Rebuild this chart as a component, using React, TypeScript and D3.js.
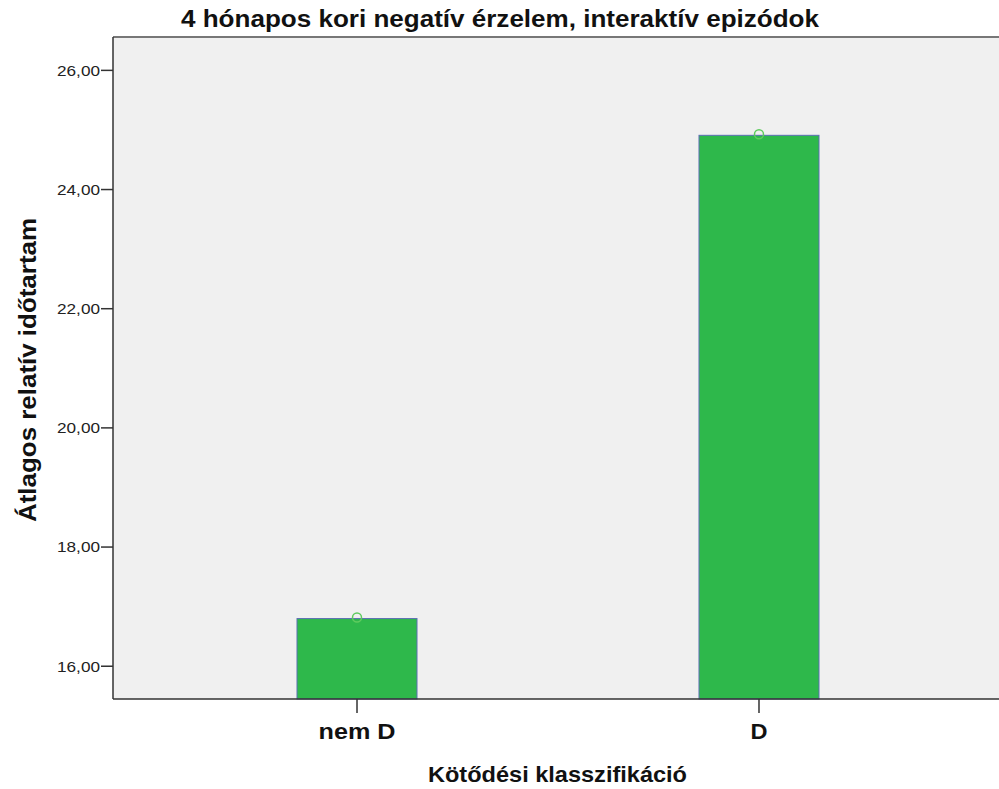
import React from "react";
import * as d3 from "d3";

const categories = ["nem D", "D"];
const means = [16.8, 24.91];
const yTicks = [16, 18, 20, 22, 24, 26];
const title = "4 hónapos kori negatív érzelem, interaktív epizódok";
const xTitle = "Kötődési klasszifikáció";
const yTitle = "Átlagos relatív időtartam";

export default function App() {
  const W = 999, H = 789;
  const left = 113, top = 37, bottom = 699, right = 1003;
  const y = d3.scaleLinear().domain([15.45, 26.56]).range([bottom, top]);
  const x = d3.scalePoint<string>().domain(categories).range([left, right]).padding(0.607);
  const barW = 120;
  const font = "'Liberation Sans', Arial, sans-serif";
  const fmt = (v: number) => v.toFixed(2).replace(".", ",");
  const catLen: Record<string, number> = { "nem D": 77, D: 17 };
  return (
    <svg width={W} height={H} style={{ position: "absolute", left: 0, top: 0, background: "#fff" }} fontFamily={font}>
      <rect x={left} y={top} width={W - left} height={bottom - top} fill="#f0f0f0" />
      {categories.map((c, i) => (
        <g key={c}>
          <rect
            x={(x(c) as number) - barW / 2}
            y={y(means[i])}
            width={barW}
            height={bottom - y(means[i])}
            fill="#2eb84b"
            stroke="#5b6fb3"
            strokeWidth={1}
          />
          <circle cx={x(c) as number} cy={y(means[i]) - 1} r={4.5} fill="none" stroke="#5ecb5e" strokeWidth={1.5} />
        </g>
      ))}
      <line x1={left} x2={W} y1={top} y2={top} stroke="#777" strokeWidth={2} />
      <line x1={left} x2={left} y1={top} y2={bottom} stroke="#333" strokeWidth={1.5} />
      <line x1={left} x2={W} y1={bottom} y2={bottom} stroke="#333" strokeWidth={1.5} />
      {yTicks.map((t) => (
        <g key={t}>
          <line x1={left - 12} x2={left} y1={y(t)} y2={y(t)} stroke="#333" strokeWidth={1.5} />
          <text
            x={100}
            y={y(t)}
            dy="0.36em"
            textAnchor="end"
            fontSize={15}
            fill="#222"
            textLength={43}
            lengthAdjust="spacingAndGlyphs"
          >
            {fmt(t)}
          </text>
        </g>
      ))}
      {categories.map((c) => (
        <g key={c}>
          <line x1={x(c) as number} x2={x(c) as number} y1={bottom} y2={bottom + 14} stroke="#333" strokeWidth={1.5} />
          <text
            x={x(c) as number}
            y={739}
            textAnchor="middle"
            fontSize={22}
            fontWeight="bold"
            fill="#111"
            textLength={catLen[c]}
            lengthAdjust="spacingAndGlyphs"
          >
            {c}
          </text>
        </g>
      ))}
      <text
        x={500}
        y={27}
        textAnchor="middle"
        fontSize={23}
        fontWeight="bold"
        fill="#111"
        textLength={638}
        lengthAdjust="spacingAndGlyphs"
      >
        {title}
      </text>
      <text
        x={557.5}
        y={782}
        textAnchor="middle"
        fontSize={22}
        fontWeight="bold"
        fill="#111"
        textLength={259}
        lengthAdjust="spacingAndGlyphs"
      >
        {xTitle}
      </text>
      <text
        transform={`translate(36,370) rotate(-90)`}
        textAnchor="middle"
        fontSize={23}
        fontWeight="bold"
        fill="#111"
        textLength={304}
        lengthAdjust="spacingAndGlyphs"
      >
        {yTitle}
      </text>
    </svg>
  );
}
